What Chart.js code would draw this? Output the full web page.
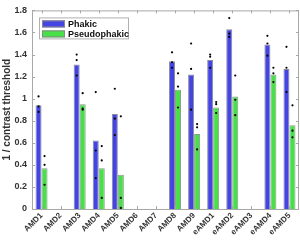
<!DOCTYPE html>
<html>
<head>
<meta charset="utf-8">
<script src="https://cdn.jsdelivr.net/npm/chart.js@4.4.0/dist/chart.umd.min.js"></script>
<style>
  html, body { margin: 0; padding: 0; background: #fff; }
  #wrap { width: 300px; height: 243px; }
</style>
</head>
<body>
<div id="wrap"><canvas id="c"></canvas></div>
<script>
// categories and group means
var labels = ['AMD1', 'AMD2', 'AMD3', 'AMD4', 'AMD5', 'AMD6', 'AMD7', 'AMD8', 'AMD9',
              'eAMD1', 'eAMD2', 'eAMD3', 'eAMD4', 'eAMD5'];
var phakic = [0.94, null, 1.31, 0.62, 0.86, null, null, 1.34, 1.22, 1.35, 1.63, null, 1.49, 1.27];
var pseudo = [0.37, null, 0.95, 0.37, 0.31, null, null, 1.08, 0.68, 0.92, 1.02, null, 1.22, 0.76];

// individual measurements (black dots)
var phakicDots = [[1.02, 0.93, 0.88], [], [1.40, 1.35, 1.21], [1.06, 0.53, 0.28], [1.09, 0.82, 0.67], [], [],
                  [1.42, 1.33, 1.28], [1.50, 1.27, 0.90], [1.40, 1.38, 1.28], [1.73, 1.59, 1.56], [],
                  [1.57, 1.50, 1.39], [1.47, 1.28, 1.06]];
var pseudoDots = [[0.48, 0.40, 0.22], [], [1.05, 0.91, 0.90], [0.57, 0.44, 0.10], [0.84, 0.10, 0.01], [], [],
                  [1.23, 1.11, 0.92], [0.77, 0.74, 0.54], [0.97, 0.95, 0.87], [1.21, 0.99, 0.85], [],
                  [1.28, 1.23, 1.15], [0.94, 0.71, 0.65]];

var yTicks = [0, 0.2, 0.4, 0.6, 0.8, 1, 1.2, 1.4, 1.6, 1.8];

var FONT = 'Liberation Sans, Arial, sans-serif';
var AXIS = '#a8a8a8';

// dots sit on the centre of their bar, y from the value scale
var dotsPlugin = {
  id: 'dots',
  afterDatasetsDraw: function(chart) {
    var ctx = chart.ctx, ys = chart.scales.y;
    var groups = [phakicDots, pseudoDots];
    ctx.save();
    ctx.fillStyle = '#000';
    groups.forEach(function(g, d) {
      var bars = chart.getDatasetMeta(d).data;
      g.forEach(function(vals, i) {
        if (!bars[i]) return;
        var cx = bars[i].x;
        vals.forEach(function(v) {
          ctx.beginPath();
          ctx.arc(cx, ys.getPixelForValue(v), 1.1, 0, Math.PI * 2);
          ctx.fill();
        });
      });
    });
    ctx.restore();
  }
};

// axes box with inward ticks + legend in the corner
var boxPlugin = {
  id: 'box',
  afterDatasetsDraw: function(chart) {
    var a = chart.chartArea, ctx = chart.ctx;
    var xs = chart.scales.x, ys = chart.scales.y;
    ctx.save();
    ctx.strokeStyle = AXIS;
    ctx.lineWidth = 1;
    ctx.strokeRect(a.left + 0.5, a.top + 0.5, a.right - a.left - 1, a.bottom - a.top);
    ctx.beginPath();
    yTicks.forEach(function(v) {
      var py = Math.round(ys.getPixelForValue(v)) + 0.5;
      ctx.moveTo(a.left, py); ctx.lineTo(a.left + 3, py);
      ctx.moveTo(a.right, py); ctx.lineTo(a.right - 3, py);
    });
    labels.forEach(function(l, i) {
      var px = Math.round(xs.getPixelForValue(i)) + 0.5;
      ctx.moveTo(px, a.bottom); ctx.lineTo(px, a.bottom - 3);
      ctx.moveTo(px, a.top); ctx.lineTo(px, a.top + 3);
    });
    ctx.stroke();

    // legend
    var lx = a.left + 7, ly = a.top + 7;
    ctx.fillStyle = '#fff';
    ctx.fillRect(lx, ly, 89, 21);
    ctx.strokeStyle = '#b0b0b0';
    ctx.strokeRect(lx + 0.5, ly + 0.5, 89, 21);
    var items = [chart.data.datasets[0], chart.data.datasets[1]];
    ctx.font = 'bold 9px ' + FONT;
    ctx.textBaseline = 'middle';
    items.forEach(function(ds, k) {
      var sy = ly + 3 + k * 10;
      ctx.fillStyle = ds.backgroundColor;
      ctx.fillRect(lx + 3, sy, 23, 7);
      ctx.strokeStyle = '#888';
      ctx.strokeRect(lx + 3.5, sy + 0.5, 22, 6);
      ctx.fillStyle = '#111';
      ctx.fillText(ds.label, lx + 29, sy + 4);
    });
    ctx.restore();
  }
};

new Chart(document.getElementById('c'), {
  type: 'bar',
  data: {
    labels: labels,
    datasets: [
      { label: 'Phakic', data: phakic, backgroundColor: '#4444e4', borderColor: '#8a8a9a', borderWidth: 1 },
      { label: 'Pseudophakic', data: pseudo, backgroundColor: '#48e048', borderColor: '#8a9a8a', borderWidth: 1 }
    ]
  },
  options: {
    responsive: true,
    maintainAspectRatio: false,
    animation: false,
    categoryPercentage: 0.63,
    barPercentage: 1.0,
    layout: { padding: { top: 5, right: 1, left: 0, bottom: 0 } },
    plugins: { legend: { display: false }, tooltip: { enabled: false } },
    scales: {
      x: {
        offset: true,
        grid: { display: false, drawTicks: false },
        border: { display: false },
        afterFit: function(s) { s.height = 34; },
        ticks: {
          autoSkip: false, minRotation: 45, maxRotation: 45, padding: 2,
          color: '#333', font: { family: FONT, size: 8, weight: 'bold' }
        }
      },
      y: {
        min: 0, max: 1.8,
        grid: { display: false, drawTicks: false },
        border: { display: false },
        afterFit: function(s) { s.width = 32; },
        afterBuildTicks: function(s) { s.ticks = yTicks.map(function(v) { return { value: v }; }); },
        title: {
          display: true, text: '1 / contrast threshold', color: '#333',
          font: { family: FONT, size: 10, weight: 'bold' }, padding: { top: 1, bottom: 0 }
        },
        ticks: {
          padding: 5, color: '#333', font: { family: FONT, size: 9, weight: 'bold' },
          callback: function(v) { return String(Number(v.toFixed(1))); }
        }
      }
    }
  },
  plugins: [dotsPlugin, boxPlugin]
});
</script>
</body>
</html>
